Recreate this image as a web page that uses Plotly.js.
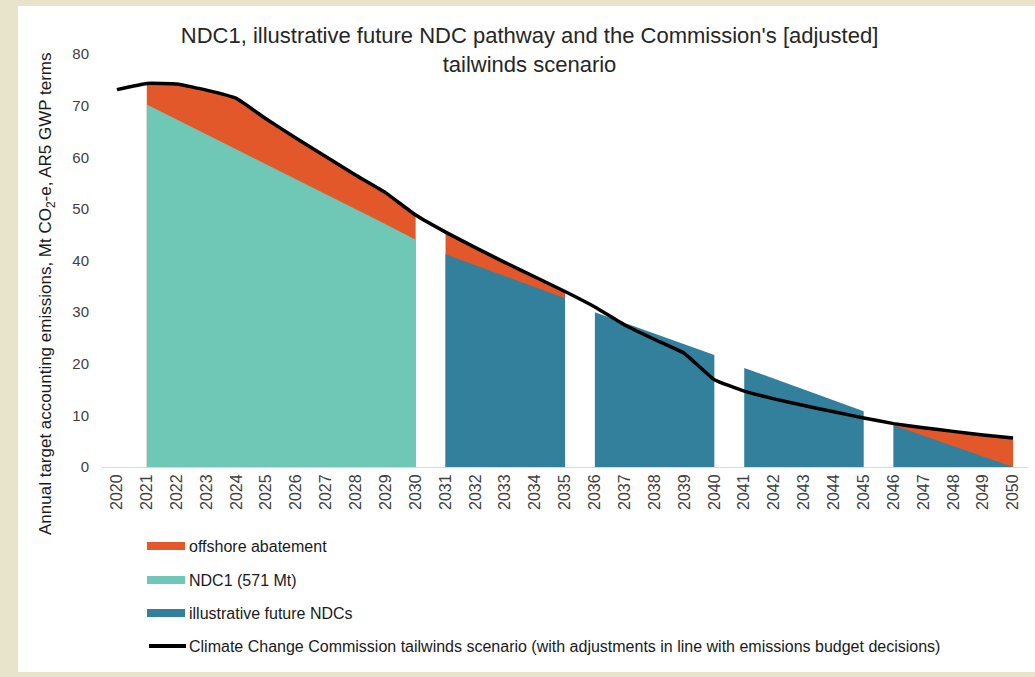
<!DOCTYPE html>
<html>
<head>
<meta charset="utf-8">
<script src="https://cdn.plot.ly/plotly-3.0.1.min.js"></script>
<style>
  html, body { margin: 0; padding: 0; width: 1035px; height: 677px; overflow: hidden; background: #e8e4cc; }
  #frame { position: absolute; left: 18px; top: 6px; width: 1017px; height: 666px; background: #ffffff; }
  #chart { width: 1017px; height: 666px; }
</style>
</head>
<body>
<div id="frame"><div id="chart"></div></div>
<script>
// ---- data ----
const years = ["2020","2021","2022","2023","2024","2025","2026","2027","2028","2029","2030",
  "2031","2032","2033","2034","2035","2036","2037","2038","2039","2040",
  "2041","2042","2043","2044","2045","2046","2047","2048","2049","2050"];

// Climate Change Commission tailwinds scenario (line)
const tailwinds = [73.1, 74.3, 74.2, 73.0, 71.4, 67.4, 63.7, 60.1, 56.5, 53.1, 48.8,
  45.5, 42.5, 39.6, 36.8, 34.0, 31.0, 27.5, 24.7, 22.0, 16.9,
  14.7, 13.2, 11.9, 10.7, 9.5, 8.4, 7.6, 6.9, 6.2, 5.6];

// NDC1 (571 Mt)
const ndc1 = [null, 70.2, 67.3, 64.4, 61.6, 58.7, 55.8, 52.9, 50.0, 47.0, 44.0,
  null, null, null, null, null, null, null, null, null, null,
  null, null, null, null, null, null, null, null, null, null];

// illustrative future NDCs
const futureNdcs = [null, null, null, null, null, null, null, null, null, null, null,
  41.2, 39.1, 37.0, 34.8, 32.7, 30.0, 27.9, 25.8, 23.8, 21.7,
  19.2, 17.1, 15.0, 12.9, 10.8, 8.1, 6.1, 4.0, 2.0, 0.0];

// offshore abatement (stacked on top of the NDC areas)
const offshore = [null, 4.1, 6.9, 8.6, 9.8, 8.7, 7.9, 7.2, 6.5, 6.1, 4.8,
  4.3, 3.4, 2.6, 2.0, 1.3, 0, 0, 0, 0, 0,
  0, 0, 0, 0, 0, 0.3, 1.5, 2.9, 4.2, 5.6];

// NDC periods (first year, last year)
const periods = [["2021","2030"], ["2031","2035"], ["2036","2040"], ["2041","2045"], ["2046","2050"]];

const seriesNames = ["offshore abatement", "NDC1 (571 Mt)", "illustrative future NDCs",
  "Climate Change Commission tailwinds scenario (with adjustments in line with emissions budget decisions)"];

const titleText = "NDC1, illustrative future NDC pathway and the Commission's [adjusted]<br>tailwinds scenario";
const yTitle = "Annual target accounting emissions, Mt CO<sub>2</sub>-e, AR5 GWP terms";

// ---- styling ----
const C_ORANGE = "#e2582a";
const C_TEAL = "#6fc8b6";
const C_BLUE = "#33809c";
const FONT = "'Liberation Sans Narrow', 'Arial Narrow', 'Liberation Sans', sans-serif";
const TXT = "#404040";

const traces = [];
// empty trace first so the category order is set by the full year list
traces.push({
  type: "scatter", mode: "lines", x: years, y: years.map(function () { return null; }),
  showlegend: false, hoverinfo: "skip"
});
periods.forEach(function (p) {
  const i0 = years.indexOf(p[0]), i1 = years.indexOf(p[1]);
  const xs = years.slice(i0, i1 + 1);
  const base = xs.map(function (_, k) {
    const i = i0 + k;
    return ndc1[i] != null ? ndc1[i] : futureNdcs[i];
  });
  const isNdc1 = ndc1[i0] != null;
  const off = offshore.slice(i0, i1 + 1);
  if (off.some(function (v) { return v > 0; })) {
    traces.push({
      type: "scatter", mode: "lines", x: xs,
      y: base.map(function (b, k) { return b + (off[k] || 0); }),
      fill: "tozeroy", fillcolor: C_ORANGE, line: { width: 0, color: C_ORANGE },
      showlegend: false, hoverinfo: "skip"
    });
  }
  traces.push({
    type: "scatter", mode: "lines", x: xs, y: base,
    fill: "tozeroy", fillcolor: isNdc1 ? C_TEAL : C_BLUE,
    line: { width: 0, color: isNdc1 ? C_TEAL : C_BLUE },
    showlegend: false, hoverinfo: "skip"
  });
});
traces.push({
  type: "scatter", mode: "lines", x: years, y: tailwinds,
  line: { color: "#000000", width: 3.5, shape: "spline", smoothing: 0.3 },
  showlegend: false
});

// plot area geometry (px in chart div)
const W = 1017, H = 666;
const M = { l: 84, r: 7, t: 48, b: 205 };
const PW = W - M.l - M.r, PH = H - M.t - M.b;
function px(x) { return (x - M.l) / PW; }
function py(y) { return (H - M.b - y) / PH; }

const shapes = [];
const annotations = [];
const legendColors = [C_ORANGE, C_TEAL, C_BLUE, "#000000"];
const legendY = [540, 574, 607, 640];
seriesNames.forEach(function (name, k) {
  if (k < 3) {
    shapes.push({ type: "rect", xref: "paper", yref: "paper",
      x0: px(129), x1: px(167), y0: py(legendY[k] + 4), y1: py(legendY[k] - 4),
      fillcolor: legendColors[k], line: { width: 0 } });
  } else {
    shapes.push({ type: "line", xref: "paper", yref: "paper",
      x0: px(131), x1: px(168), y0: py(legendY[k]), y1: py(legendY[k]),
      line: { color: "#000000", width: 4 } });
  }
  annotations.push({ xref: "paper", yref: "paper", x: px(169), y: py(legendY[k]),
    xanchor: "left", yanchor: "middle", showarrow: false, text: name,
    font: { family: FONT, size: 16, color: "#1a1a1a" } });
});
annotations.push({ xref: "paper", yref: "paper", x: px(29), y: py(288),
  xanchor: "center", yanchor: "middle", showarrow: false, textangle: -90,
  text: yTitle, font: { family: FONT, size: 17, color: "#1a1a1a" } });

const layout = {
  width: W, height: H,
  margin: M,
  paper_bgcolor: "#ffffff", plot_bgcolor: "#ffffff",
  font: { family: FONT, color: TXT },
  title: { text: titleText, x: 0.503, xanchor: "center", y: 1 - 37 / H, yanchor: "middle",
    font: { family: FONT, size: 22, color: "#262626" } },
  xaxis: { type: "category", categoryorder: "array", categoryarray: years,
    range: [-0.5, 30.5], tickangle: -90, showgrid: false,
    showline: true, linecolor: "#d9d9d9", linewidth: 1, ticks: "",
    tickfont: { family: FONT, size: 16, color: TXT }, zeroline: false, fixedrange: true },
  yaxis: { range: [0, 80], dtick: 10, showgrid: false, showline: false, zeroline: false,
    ticks: "", ticklabelstandoff: 12, tickfont: { family: FONT, size: 15, color: TXT }, fixedrange: true },
  shapes: shapes,
  annotations: annotations,
  showlegend: false
};

Plotly.newPlot("chart", traces, layout, { displayModeBar: false, staticPlot: true });
</script>
</body>
</html>
